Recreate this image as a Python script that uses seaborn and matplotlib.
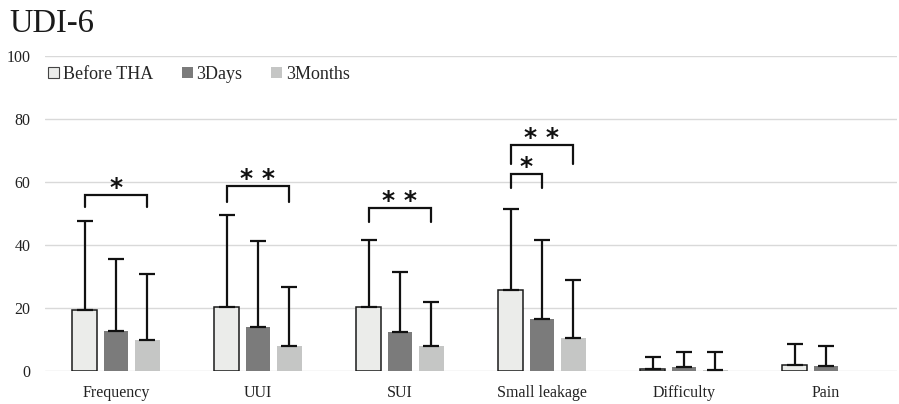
import numpy as np
import pandas as pd
import matplotlib
matplotlib.use("Agg")
import matplotlib.pyplot as plt
from matplotlib.patches import Patch
import seaborn as sns

# UDI-6 item scores (mean with upper SD) at three time points
items = ["Frequency", "UUI", "SUI", "Small leakage", "Difficulty", "Pain"]
groups = ["Before THA", "3Days", "3Months"]

mean_before = [19.4, 20.5, 20.5, 25.9, 0.6, 2.0]
mean_3days = [12.7, 14.0, 12.5, 16.5, 1.3, 1.8]
mean_3months = [9.9, 7.9, 7.9, 10.5, 0.5, 0.0]

sd_before = [28.3, 29.1, 21.2, 25.7, 4.0, 6.7]
sd_3days = [22.9, 27.5, 19.1, 25.2, 4.7, 6.3]
sd_3months = [20.9, 19.0, 14.1, 18.4, 5.7, np.nan]

y_ticks = [0, 20, 40, 60, 80, 100]

# significance brackets: item, first group, second group, bracket height, leg bottom, label
sig_items = ["Frequency", "UUI", "SUI", "Small leakage", "Small leakage"]
sig_from = ["Before THA", "Before THA", "Before THA", "Before THA", "Before THA"]
sig_to = ["3Months", "3Months", "3Months", "3Months", "3Days"]
sig_top = [56.0, 58.8, 51.9, 72.0, 62.6]
sig_bottom = [52.3, 53.6, 47.3, 65.8, 58.1]
sig_label = ["*", "* *", "* *", "* *", "*"]

means = [mean_before, mean_3days, mean_3months]
sds = [sd_before, sd_3days, sd_3months]

df = pd.DataFrame({
    "item": np.repeat([items], 3, axis=0).ravel(),
    "group": np.repeat(groups, len(items)),
    "value": np.concatenate(means),
})

colors = ["#ebecea", "#7b7b7b", "#c5c6c5"]

sns.set_theme(style="white")
plt.rcParams["font.family"] = ["Liberation Serif", "DejaVu Serif"]

fig = plt.figure(figsize=(8.99, 4.04), dpi=100)
ax = fig.add_axes([45 / 899, 32.7 / 404, 852 / 899, 315 / 404])

sns.barplot(data=df, x="item", y="value", hue="group", order=items,
            hue_order=groups, palette=colors, width=0.663, gap=0.21,
            errorbar=None, legend=False, ax=ax, saturation=1)

bar_sets = list(ax.containers)

# outline only the baseline bars
for k, cont in enumerate(bar_sets):
    for p in cont.patches:
        if k == 0:
            p.set_edgecolor("#1a1a1a")
            p.set_linewidth(1.1)
        else:
            p.set_edgecolor("none")
        p.set_zorder(2)

# upper-only error bars
centers = {}
for k, cont in enumerate(bar_sets):
    for j, p in enumerate(cont.patches):
        xc = p.get_x() + p.get_width() / 2
        centers[(items[j], groups[k])] = xc
        sd = sds[k][j]
        if np.isnan(sd):
            continue
        ax.errorbar(xc, means[k][j], yerr=[[0], [sd]], fmt="none",
                    ecolor="#111111", elinewidth=1.6, capsize=5.6,
                    capthick=1.6, zorder=3)

# significance brackets with asterisks centred just above them
for it, g1, g2, top, bot, lab in zip(sig_items, sig_from, sig_to,
                                     sig_top, sig_bottom, sig_label):
    x1 = centers[(it, g1)]
    x2 = centers[(it, g2)]
    ax.plot([x1, x1, x2, x2], [bot, top, top, bot], color="#111111",
            lw=1.6, zorder=3, solid_joinstyle="miter")
    ax.text((x1 + x2) / 2, top - 0.1, lab, ha="center", va="baseline",
            fontsize=18, family="DejaVu Sans", fontweight="bold",
            color="#111111")

ax.set_ylim(0, 100)
ax.set_xlim(-0.5, len(items) - 0.5)
ax.set_yticks(y_ticks)
ax.yaxis.grid(True, color="#d9d9d9", lw=1.0)
ax.set_axisbelow(True)
for s in ax.spines.values():
    s.set_visible(False)
ax.set_xlabel("")
ax.set_ylabel("")
ax.tick_params(axis="x", length=0, pad=10, labelsize=11.5, colors="#222222")
ax.tick_params(axis="y", length=0, pad=10.5, labelsize=11.5, colors="#222222")

handles = [Patch(facecolor=colors[0], edgecolor="#444444", lw=0.8),
           Patch(facecolor=colors[1], edgecolor="none"),
           Patch(facecolor=colors[2], edgecolor="none")]
ax.legend(handles, groups, loc="center left", bbox_to_anchor=(0.004, 0.942),
          ncol=3, frameon=False, fontsize=13, handlelength=0.6,
          handleheight=0.6, handletextpad=0.2, columnspacing=1.6,
          borderpad=0, borderaxespad=0)

fig.text(9 / 899, 1 - 32 / 404, "UDI-6", ha="left", va="baseline",
         fontsize=23.5, color="#1a1a1a")

fig.savefig("out.png", dpi=100)
